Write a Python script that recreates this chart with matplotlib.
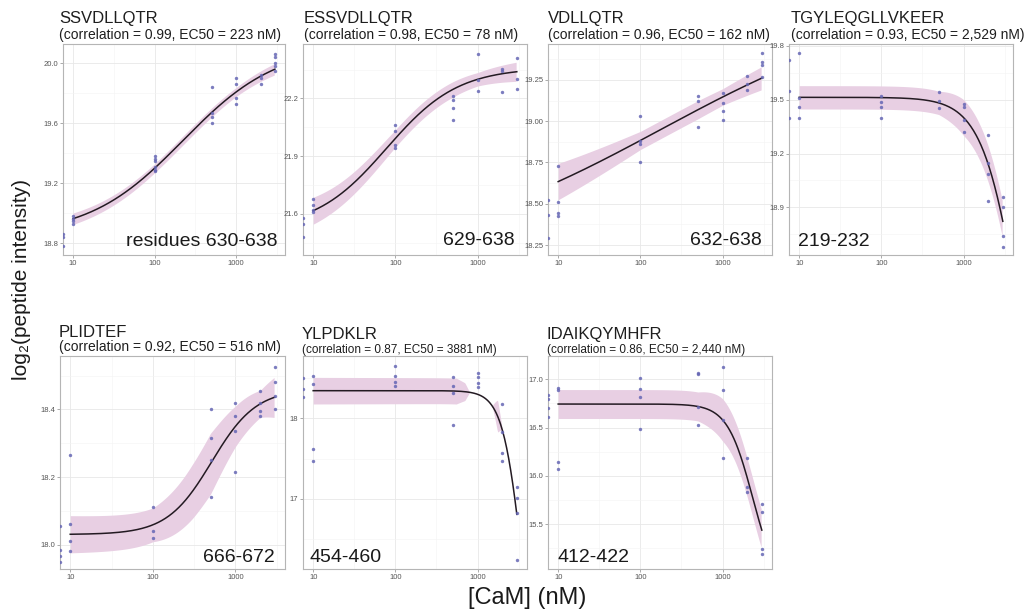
import numpy as np
import matplotlib
matplotlib.use('Agg')
import matplotlib.pyplot as plt

plt.rcParams['font.family'] = ['Liberation Sans', 'DejaVu Sans']

# --- Data ---
doses = [10, 100, 500, 1000, 2000, 3000]

peptides = ['SSVDLLQTR', 'ESSVDLLQTR', 'VDLLQTR', 'TGYLEQGLLVKEER',
            'PLIDTEF', 'YLPDKLR', 'IDAIKQYMHFR']
correlations = ['0.99', '0.98', '0.96', '0.93', '0.92', '0.87', '0.86']
ec50_labels = ['223', '78', '162', '2,529', '516', '3881', '2,440']
residues = ['residues 630-638', '629-638', '632-638', '219-232',
            '666-672', '454-460', '412-422']

# replicate log2 intensities per dose (order of doses)
p1_y = [[18.98, 18.96, 18.95, 18.93], [19.38, 19.36, 19.35, 19.31, 19.29, 19.28],
        [19.84, 19.67, 19.64, 19.60], [19.90, 19.86, 19.77, 19.73],
        [19.92, 19.90, 19.86], [20.06, 20.04, 20.00, 19.98, 19.95]]
p2_y = [[21.675, 21.645, 21.62, 21.61], [22.06, 22.03, 21.96, 21.94],
        [22.215, 22.19, 22.15, 22.09], [22.43, 22.295, 22.24],
        [22.355, 22.345, 22.235], [22.41, 22.30, 22.25]]
p3_y = [[18.73, 18.51, 18.445, 18.425], [19.03, 18.88, 18.86, 18.75],
        [19.15, 19.125, 18.965], [19.17, 19.11, 19.06, 19.01],
        [19.275, 19.225, 19.19], [19.41, 19.36, 19.34, 19.27]]
p4_y = [[19.76, 19.51, 19.46, 19.40], [19.52, 19.485, 19.46, 19.40],
        [19.545, 19.495, 19.455], [19.475, 19.46, 19.385, 19.32],
        [19.305, 19.145, 19.085, 18.935], [18.96, 18.90, 18.74, 18.68]]
p5_y = [[18.265, 18.06, 18.01, 17.98], [18.11, 18.04, 18.02],
        [18.40, 18.315, 18.25, 18.14], [18.42, 18.38, 18.335, 18.215],
        [18.455, 18.42, 18.395, 18.38], [18.525, 18.48, 18.44, 18.40]]
p6_y = [[18.525, 18.425, 17.625, 17.465], [18.65, 18.525, 18.445, 18.40],
        [18.515, 18.395, 18.31, 17.915], [18.56, 18.51, 18.44, 18.385],
        [18.175, 17.835, 17.575, 17.465], [17.145, 17.01, 16.83, 16.245]]
p7_y = [[16.915, 16.885, 16.145, 16.075], [17.01, 16.895, 16.82, 16.49],
        [17.07, 17.055, 16.71, 16.525], [17.13, 16.89, 16.58, 16.18],
        [16.18, 15.88, 15.83], [15.71, 15.63, 15.24, 15.19]]

# 0 nM controls (drawn at the left panel edge, like -Inf on a log axis)
p1_zero = [18.86, 18.84, 18.78]
p2_zero = [21.58, 21.545, 21.48]
p3_zero = [18.52, 18.435, 18.29]
p4_zero = [19.72, 19.55, 19.40]
p5_zero = [18.055, 17.985, 17.965, 17.95]
p6_zero = [18.495, 18.36, 18.26]
p7_zero = [16.84, 16.80, 16.70, 16.61]

# fitted dose-response: (value at low dose, value at high dose, midpoint, hill)
p1_fit = (18.85, 20.12, 223, 0.75)
p2_fit = (21.52, 22.36, 78, 1.0)
p3_fit = (18.15, 19.75, 178, 0.29)
p4_fit = (19.513, 17.0, 5000, 1.9)
p5_fit = (18.03, 18.46, 516, 1.61)
p6_fit = (18.343, 14.0, 3550, 3.6)
p7_fit = (16.744, 14.8, 2325, 2.82)

# confidence band half widths: list of segments (doses, half widths)
p1_band = [([10, 100, 1000, 3000], [0.038, 0.03, 0.03, 0.038])]
p2_band = [([10, 100, 500, 1000, 3000], [0.07, 0.045, 0.04, 0.035, 0.05])]
p3_band = [([10, 100, 500, 1000, 3000], [0.11, 0.055, 0.055, 0.05, 0.07])]
p4_band = [([10, 500, 1000, 2000, 3000], [0.065, 0.065, 0.1, 0.1, 0.1])]
p5_band = [([10, 100, 300, 500, 1000, 2000, 3000],
            [0.055, 0.05, 0.08, 0.09, 0.06, 0.04, 0.06])]
p6_band = [([10, 550, 700, 800], [0.165, 0.16, 0.11, 0.0]),
           ([1500, 1750, 2000], [0.0, 0.2, 0.0])]
p7_band = [([10, 500, 1000, 2000, 3000], [0.15, 0.15, 0.22, 0.2, 0.2])]

p1_ticks = [18.8, 19.2, 19.6, 20.0]
p2_ticks = [21.6, 21.9, 22.2]
p3_ticks = [18.25, 18.50, 18.75, 19.00, 19.25]
p4_ticks = [18.9, 19.2, 19.5, 19.8]
p5_ticks = [18.0, 18.2, 18.4]
p6_ticks = [17, 18]
p7_ticks = [15.5, 16.0, 16.5, 17.0]

ylims = [(18.72, 20.13), (21.385, 22.483), (18.19, 19.467), (18.635, 19.81),
         (17.928, 18.558), (16.132, 18.773), (15.034, 17.242)]
tick_fmt = ['{:.1f}', '{:.1f}', '{:.2f}', '{:.1f}', '{:.1f}', '{:.0f}', '{:.1f}']

all_y = [p1_y, p2_y, p3_y, p4_y, p5_y, p6_y, p7_y]
all_zero = [p1_zero, p2_zero, p3_zero, p4_zero, p5_zero, p6_zero, p7_zero]
all_fit = [p1_fit, p2_fit, p3_fit, p4_fit, p5_fit, p6_fit, p7_fit]
all_band = [p1_band, p2_band, p3_band, p4_band, p5_band, p6_band, p7_band]
all_ticks = [p1_ticks, p2_ticks, p3_ticks, p4_ticks, p5_ticks, p6_ticks, p7_ticks]

# --- Layout (pixels on a 1024x614 canvas) ---
W, H = 1024, 614
boxes = [(63, 285, 44, 255), (303, 527, 44, 255), (548, 772, 44, 255), (789, 1013, 44, 255),
         (60, 285, 356, 569), (303, 527, 356, 569), (548, 772, 356, 569)]
title_x = [59, 304, 548, 791, 59, 302, 547]
title_base = [23, 23, 23, 23, 337, 339, 339]
sub_base = [38.5, 38.5, 38.5, 38.5, 351.5, 352.5, 352.5]
sub_size = [10, 10, 10, 10, 10, 8.5, 8.5]
res_right = [True, True, True, False, True, False, False]
res_x = [277, 515, 762, 798, 275, 309, 557]
res_base = [246, 245, 245, 246, 562, 562, 562]

XLIM = (7.52, 3990)


def fx(px):
    return px / W


def fy(py):
    return 1 - py / H


def dose_response(x, low, high, mid, hill):
    return low + (high - low) / (1 + (mid / x) ** hill)


fig = plt.figure(figsize=(W / 100, H / 100), dpi=100)
fig.patch.set_facecolor('white')

for i in range(7):
    l, r, t, b = boxes[i]
    ax = fig.add_axes((fx(l), fy(b), (r - l) / W, (b - t) / H))
    ax.set_xscale('log')
    ax.set_xlim(*XLIM)
    ax.set_ylim(*ylims[i])

    xs = np.logspace(1, np.log10(3000), 300)
    ys = dose_response(xs, *all_fit[i])

    for seg_x, seg_hw in all_band[i]:
        m = (xs >= seg_x[0]) & (xs <= seg_x[-1])
        sx = xs[m]
        hw = np.interp(np.log10(sx), np.log10(seg_x), seg_hw)
        sy = dose_response(sx, *all_fit[i])
        ax.fill_between(sx, sy - hw, sy + hw, color='#e8cfe3', lw=0, zorder=2)

    ax.plot(xs, ys, color='#231a22', lw=1.1, zorder=3)

    px, py = [], []
    for d, vals in zip(doses, all_y[i]):
        px += [d] * len(vals)
        py += vals
    ax.scatter(px, py, s=6, color='#6566b4', alpha=0.85, lw=0, zorder=4)
    ax.scatter([XLIM[0]] * len(all_zero[i]), all_zero[i], s=6, color='#6566b4',
               alpha=0.85, lw=0, zorder=4, clip_on=True)

    ax.set_xticks([10, 100, 1000])
    ax.set_xticklabels(['10', '100', '1000'])
    ax.set_xticks([10 ** 1.5, 10 ** 2.5, 10 ** 3.5], minor=True)
    ax.set_xticklabels([], minor=True)

    ticks = all_ticks[i]
    step = ticks[1] - ticks[0]
    ax.set_yticks(ticks)
    ax.set_yticklabels([tick_fmt[i].format(v) for v in ticks])
    minors = np.arange(ticks[0] - step / 2, ticks[-1] + step, step)
    minors = [v for v in minors if ylims[i][0] < v < ylims[i][1]]
    ax.set_yticks(minors, minor=True)
    ax.set_yticklabels([], minor=True)

    ax.grid(which='major', color='#e8e8e8', lw=0.6)
    ax.grid(which='minor', color='#f3f3f3', lw=0.4)
    ax.set_axisbelow(True)
    ax.tick_params(which='major', length=2, width=0.5, color='#888888',
                   labelsize=5.5, labelcolor='#555555', pad=1.5)
    ax.tick_params(which='minor', length=0)
    for sp in ax.spines.values():
        sp.set_color('#b5b5b5')
        sp.set_linewidth(0.8)

    fig.text(fx(title_x[i]), fy(title_base[i]), peptides[i], fontsize=12,
             color='#1e1e1e', ha='left', va='baseline')
    fig.text(fx(title_x[i]), fy(sub_base[i]),
             f'(correlation = {correlations[i]}, EC50 = {ec50_labels[i]} nM)',
             fontsize=sub_size[i], color='#1e1e1e', ha='left', va='baseline')
    fig.text(fx(res_x[i]), fy(res_base[i]), residues[i], fontsize=14,
             color='#1a1a1a', ha='right' if res_right[i] else 'left', va='baseline')

fig.text(fx(22), fy(280), 'log\u2082(peptide intensity)', fontsize=15, rotation=90,
         ha='center', va='center', color='#1a1a1a')
fig.text(fx(527), fy(598), '[CaM] (nM)', fontsize=17, ha='center', va='center',
         color='#1a1a1a')

fig.savefig('out.png', dpi=100)
